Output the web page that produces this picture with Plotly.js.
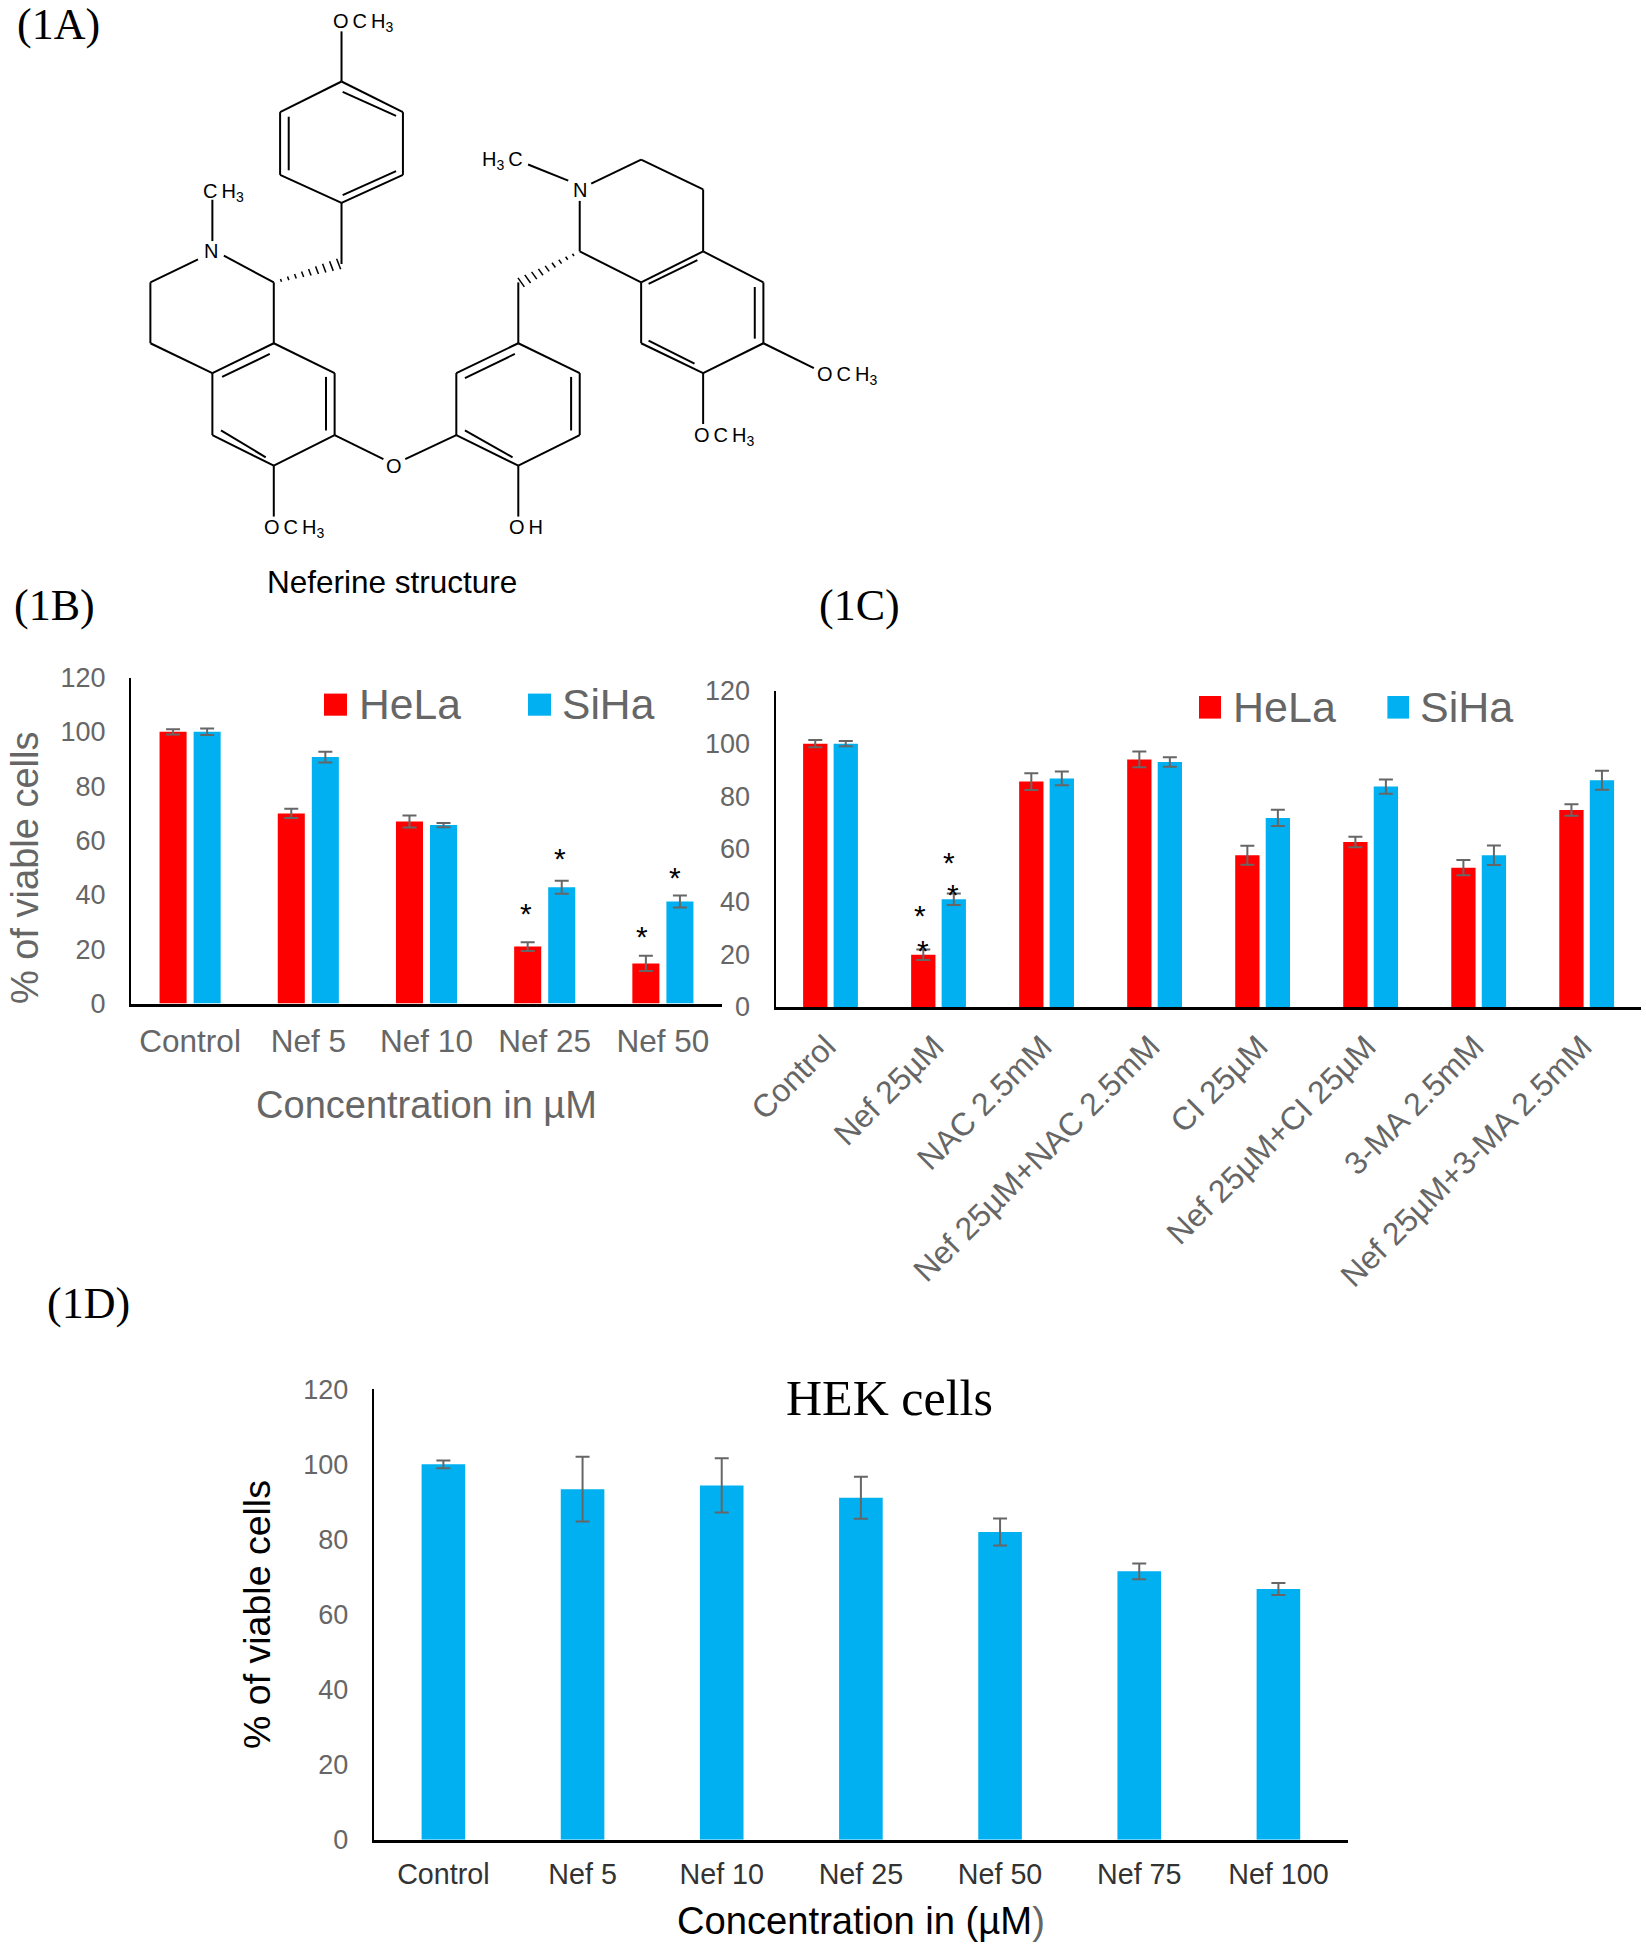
<!DOCTYPE html>
<html>
<head>
<meta charset="utf-8">
<script src="https://cdn.plot.ly/plotly-3.0.1.min.js"></script>
<style>html,body{margin:0;padding:0;background:#fff}</style>
</head>
<body>
<div id="chart" style="width:1646px;height:1950px"></div>
<script>
// ---------- Data ----------
const catsB = ['Control','Nef 5','Nef 10','Nef 25','Nef 50'];
const helaB = [100,70,67,21,14.8];
const helaBErr = [1,1.7,2.2,1.6,2.8];
const sihaB = [100,90.7,65.7,42.8,37.6];
const sihaBErr = [1.2,2,0.8,2.4,2.2];

const catsC = ['Control','Nef 25µM','NAC 2.5mM','Nef 25µM+NAC 2.5mM','CI 25µM','Nef 25µM+CI 25µM','3-MA 2.5mM','Nef 25µM+3-MA 2.5mM'];
const helaC = [100,19.8,85.6,94,57.6,62.6,52.9,74.8];
const helaCErr = [1.4,2,3.2,3,3.6,2,2.9,2.2];
const sihaC = [100,40.9,86.8,93,71.8,83.7,57.6,86.1];
const sihaCErr = [1,2.2,2.6,1.8,3.1,2.7,3.7,3.6];

const catsD = ['Control','Nef 5','Nef 10','Nef 25','Nef 50','Nef 75','Nef 100'];
const hekD = [100,93.4,94.4,91.1,82,71.5,66.8];
const hekDErr = [1.05,8.6,7.2,5.6,3.6,2.1,1.6];

const yTicks = [0,20,40,60,80,100,120];

// ---------- Neferine structure (drawing units of the sketch) ----------
const singleBonds = [
 [595,82,595,213],[595,213,702,293],[702,293,702,457],[702,457,595,530],[595,530,488,457],[488,457,488,293],[488,293,595,213],
 [595,530,595,690],
 [477,738,390,668],[370,630,370,522],[345,678,262,738],[262,738,262,897],[262,897,370,975],[370,975,477,897],[477,897,477,738],
 [477,897,583,975],[583,975,583,1137],[583,1137,477,1217],[477,1217,370,1137],[370,1137,370,975],[477,1217,477,1350],
 [583,1137,668,1200],[706,1200,795,1137],
 [795,1137,795,975],[795,975,903,897],[903,897,1010,975],[1010,975,1010,1137],[1010,1137,903,1217],[903,1217,795,1137],
 [903,1217,903,1350],[903,897,903,738],
 [1010,657,1010,525],[1010,657,1117,738],[1030,480,1117,417],[1117,417,1225,495],[1225,495,1225,657],[1225,657,1117,738],
 [1225,657,1330,738],[1330,738,1330,897],[1330,897,1225,975],[1225,975,1117,897],[1117,897,1117,738],
 [1330,897,1418,962],[1225,975,1225,1108],[990,472,920,430]
];
const innerBonds = [
 [597,240,690,303],[690,447,597,510],[503,445,503,305],
 [387,985,470,925],[568,985,568,1125],[463,1195,385,1125],
 [810,988,897,925],[995,985,995,1125],[893,1195,810,1125],
 [1130,742,1215,680],[1315,750,1315,885],[1210,950,1130,890]
];
const hashedBonds = [[477,738,590,690],[1010,657,908,738]];
const atomX = [632,390,368,513,687,917,876,1010,1475,1262];
const atomY = [58,502,655,1382,1217,1378,420,497,980,1140];
const atomT = ['O\u2009C\u2009H<sub>3</sub>','C\u2009H<sub>3</sub>','N','O\u2009C\u2009H<sub>3</sub>','O','O\u2009H','H<sub>3</sub>\u2009C','N','O\u2009C\u2009H<sub>3</sub>','O\u2009C\u2009H<sub>3</sub>'];

// ---------- Helpers ----------
const W = 1646, H = 1950;
const SANS = '"Liberation Sans", Arial, sans-serif', SERIF = '"Liberation Serif", "Times New Roman", serif';
const GREY = '#666666', RED = '#FF0000', BLUE = '#00B0F0';
const px = x => x / W, py = y => 1 - y / H;
const note = (x,y,text,size,color,family,extra) => Object.assign({xref:'paper',yref:'paper',x:px(x),y:py(y),text,showarrow:false,
  xanchor:'center',yanchor:'middle',font:{size,color,family}},extra||{});
const star = (x,y) => note(x,y+3.5,'*',30,'#000',SANS);
const swatch = (x0,y0,x1,y1,c) => ({type:'rect',xref:'paper',yref:'paper',x0:px(x0),x1:px(x1),y0:py(y1),y1:py(y0),fillcolor:c,line:{width:0}});
const err = a => ({type:'data',array:a,visible:true,color:GREY,thickness:2,width:7});
const bar = (x,y,e,name,color,xa,ya,width,offset) => ({type:'bar',x,y,name,xaxis:xa,yaxis:ya,width,offset,
  marker:{color,line:{width:0}},error_y:err(e),showlegend:false,hoverinfo:'x+y+name'});

// ---------- Traces ----------
const traces = [
  bar(catsB,helaB,helaBErr,'HeLa',RED,'x','y',27/118,-30.5/118),
  bar(catsB,sihaB,sihaBErr,'SiHa',BLUE,'x','y',27/118,3.5/118),
  bar(catsC,helaC,helaCErr,'HeLa',RED,'x2','y2',24.3/108,-27.3/108),
  bar(catsC,sihaC,sihaCErr,'SiHa',BLUE,'x2','y2',24.3/108,3.2/108),
  bar(catsD,hekD,hekDErr,'HEK cells',BLUE,'x3','y3',43.6/139.2,-21.8/139.2)
];

// structure drawing
const seg = (list) => { const X=[],Y=[]; list.forEach(b=>{X.push(b[0],b[2],null);Y.push(b[1],b[3],null);}); return {X,Y}; };
const hashes = [];
hashedBonds.forEach(h=>{
  const dx=h[2]-h[0], dy=h[3]-h[1], L=Math.hypot(dx,dy), nx=-dy/L*1.0, ny=dx/L*1.5, n=9;
  for(let i=1;i<=n;i++){const t=i/n, c=3+t*17; const x=h[0]+dx*t, y=h[1]+dy*t;
    hashes.push([x-nx*c/2*0.9,y-ny*c/2,x+nx*c/2*0.9,y+ny*c/2]);}
});
const sB = seg(singleBonds.concat(innerBonds)), hB = seg(hashes);
traces.push({type:'scatter',mode:'lines',x:sB.X,y:sB.Y,xaxis:'x4',yaxis:'y4',line:{color:'#000',width:2},showlegend:false,hoverinfo:'skip'});
traces.push({type:'scatter',mode:'lines',x:hB.X,y:hB.Y,xaxis:'x4',yaxis:'y4',line:{color:'#000',width:1.5},showlegend:false,hoverinfo:'skip'});
const atomNotes = atomT.map((t,i)=>({xref:'x4',yref:'y4',x:atomX[i],y:atomY[i],text:t,showarrow:false,xanchor:'center',yanchor:'middle',
  font:{family:SANS,size:20,color:'#000'}}));

// ---------- Axes ----------
const yAxis = (top,bottom,left,title,standoffLabels) => Object.assign({
  domain:[py(bottom),py(top)],range:[0,120],tickvals:yTicks,anchor:left,showgrid:false,zeroline:false,
  showline:true,linecolor:'#000',linewidth:2,ticks:'',ticklabelstandoff:standoffLabels,
  tickfont:{family:SANS,size:27,color:GREY}},title?{title}:{});
const xAxis = (left,right,anchorY,tf,title,extra) => Object.assign({
  domain:[px(left),px(right)],type:'category',anchor:anchorY,showgrid:false,zeroline:false,
  showline:true,linecolor:'#000',linewidth:3,ticks:'',tickfont:tf},title?{title}:{},extra||{});

const layout = {
  width:W,height:H,margin:{l:0,r:0,t:0,b:0},paper_bgcolor:'#fff',plot_bgcolor:'rgba(0,0,0,0)',
  barmode:'group',showlegend:false,
  xaxis: xAxis(131,722,'y',{family:SANS,size:31.5,color:GREY},{text:'Concentration in µM',font:{family:SANS,size:38,color:GREY},standoff:33.5},{ticklabelstandoff:8}),
  yaxis: yAxis(677.5,1003.6,'x',null,18),
  xaxis2:xAxis(776.4,1640.6,'y2',{family:SANS,size:32,color:GREY},null,{tickangle:-45,ticklabelstandoff:5,ticklabelshift:-4}),
  yaxis2:yAxis(691,1006.9,'x2',null,19),
  xaxis3:xAxis(373.8,1348,'y3',{family:SANS,size:28.7,color:'#333333'},{text:'Concentration in (µM<span style="color:#666666">)</span>',font:{family:SANS,size:38.2,color:'#000'},standoff:19},{ticklabelstandoff:7}),
  yaxis3:yAxis(1389.3,1839.7,'x3',{text:'% of viable cells',font:{family:SANS,size:37.5,color:'#000'},standoff:21},18),
  xaxis4:{domain:[0,px(900)],range:[0,1568],visible:false,anchor:'y4',fixedrange:true},
  yaxis4:{domain:[py(600),1],range:[1568,0],visible:false,anchor:'x4',fixedrange:true},
  shapes:[
    swatch(324,693.6,347,715.7,RED),swatch(528,693.6,551,715.7,BLUE),
    swatch(1199,696,1221,718.6,RED),swatch(1387.4,696,1409,718.6,BLUE)
  ],
  annotations:atomNotes.concat([
    note(58,24,'(1A)',44,'#000',SERIF),
    note(54,606,'(1B)',44,'#000',SERIF),
    note(859,606,'(1C)',44,'#000',SERIF),
    note(88,1303,'(1D)',44,'#000',SERIF),
    note(392,582,'Neferine structure',31.5,'#000',SANS),
    note(25,868,'% of viable cells',38,GREY,SANS,{textangle:-90}),
    note(410,704,'HeLa',42.6,GREY,SANS),
    note(608,704,'SiHa',42.6,GREY,SANS),
    note(1284,707,'HeLa',43,GREY,SANS),
    note(1466.6,707,'SiHa',43,GREY,SANS),
    note(889,1398,'HEK cells',50,'#000',SERIF),
    star(525.5,909.6),star(560,855),star(642,933),star(675,874),
    star(949,859.5),star(953.3,891),star(920.3,911.5),star(922.7,947)
  ])
};
Plotly.newPlot('chart',traces,layout,{displayModeBar:false,staticPlot:true});
</script>
</body>
</html>
